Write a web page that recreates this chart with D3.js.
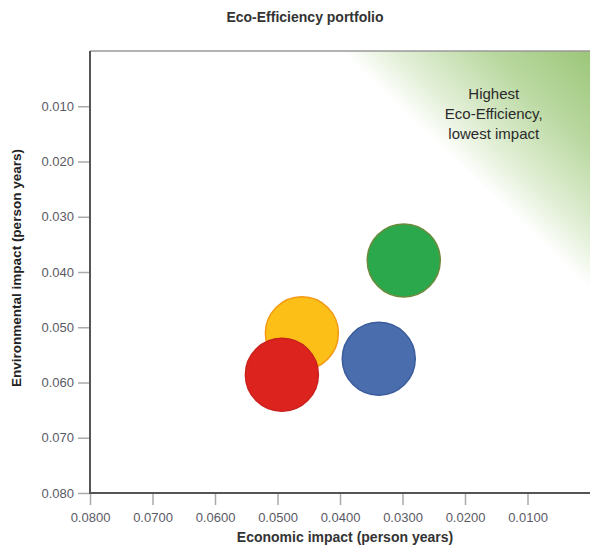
<!DOCTYPE html>
<html>
<head>
<meta charset="utf-8">
<script src="https://cdn.jsdelivr.net/npm/d3@7"></script>
<style>
  body { margin: 0; background: #fff; }
  text { font-family: "Liberation Sans", Arial, sans-serif; }
</style>
</head>
<body>
<script>
'use strict';

// portfolio items (economic impact, environmental impact), in person years
let names = ['green', 'yellow', 'blue', 'red'];
let econ = [0.0298, 0.0461, 0.0338, 0.0493];
let env = [0.0379, 0.0511, 0.0557, 0.0586];
let colors = ['#2ca84c', '#fcbf17', '#4a6dae', '#dd231e'];
let strokes = ['#6b8a3c', '#f29a14', '#3a5c9c', '#c9211c'];

let xTicks = [0.08, 0.07, 0.06, 0.05, 0.04, 0.03, 0.02, 0.01];
let yTicks = [0.01, 0.02, 0.03, 0.04, 0.05, 0.06, 0.07, 0.08];

// the "best" corner: below 0.040 economic and 0.043 environmental
let zone = [[0.040, 0], [0, 0], [0, 0.043]];
let zoneText = ['Highest', 'Eco-Efficiency,', 'lowest impact'];

let svgWidth = 590, svgHeight = 546;
let margin = { top: 51, right: 0, bottom: 53, left: 90 };

let xScale = d3.scaleLinear()
  .domain([0.08, 0]) // reversed, lower impact to the right
  .range([margin.left, svgWidth - margin.right]);

let yScale = d3.scaleLinear()
  .domain([0, 0.08]) // low impact at the top
  .range([margin.top, svgHeight - margin.bottom]);

let chart = d3.select('body').append('svg')
  .attr('width', svgWidth)
  .attr('height', svgHeight);

// gradient for the green corner, white along the diagonal
let p0 = [xScale(zone[0][0]), yScale(zone[0][1])];
let p2 = [xScale(zone[2][0]), yScale(zone[2][1])];
let c = [xScale(zone[1][0]), yScale(zone[1][1])];
let dx = p2[0] - p0[0], dy = p2[1] - p0[1];
let len = Math.hypot(dx, dy);
let t = ((c[0] - p0[0]) * dx + (c[1] - p0[1]) * dy) / (len * len);
let foot = [p0[0] + t * dx, p0[1] + t * dy];

let grad = chart.append('defs').append('linearGradient')
  .attr('id', 'corner')
  .attr('gradientUnits', 'userSpaceOnUse')
  .attr('x1', foot[0]).attr('y1', foot[1])
  .attr('x2', c[0]).attr('y2', c[1]);
grad.append('stop').attr('offset', '0%').attr('stop-color', '#ffffff');
grad.append('stop').attr('offset', '22%').attr('stop-color', '#e2efd6');
grad.append('stop').attr('offset', '60%').attr('stop-color', '#b9d8a0');
grad.append('stop').attr('offset', '100%').attr('stop-color', '#9cc679');

chart.append('path')
  .datum(zone)
  .attr('d', d3.line().x(d => xScale(d[0])).y(d => yScale(d[1])).curve(d3.curveLinearClosed))
  .attr('fill', 'url(#corner)');

chart.append('text')
  .attr('x', xScale(0.0154))
  .attr('y', 99)
  .attr('text-anchor', 'middle')
  .attr('font-size', 15)
  .attr('fill', '#2a2a2a')
  .selectAll('tspan').data(zoneText).enter().append('tspan')
  .attr('x', xScale(0.0154))
  .attr('dy', (d, i) => i === 0 ? 0 : 20)
  .text(d => d);

// axes
let xAxis = chart.append('g')
  .attr('transform', `translate(0,${svgHeight - margin.bottom})`)
  .call(d3.axisBottom(xScale).tickValues(xTicks).tickFormat(d3.format('.4f')).tickSize(12).tickPadding(8));

let yAxis = chart.append('g')
  .attr('transform', `translate(${margin.left},0)`)
  .call(d3.axisLeft(yScale).tickValues(yTicks).tickFormat(d3.format('.3f')).tickSize(12).tickPadding(4));

[xAxis, yAxis].forEach(g => {
  g.select('.domain').remove();
  g.selectAll('.tick line').attr('stroke', '#aaa').attr('stroke-width', 1.5);
  g.selectAll('.tick text')
    .attr('fill', '#5a5a66')
    .attr('font-size', 13)
    .attr('font-family', '"Liberation Sans", Arial, sans-serif');
});

// frame: top, left, bottom
chart.append('line')
  .attr('x1', margin.left).attr('x2', svgWidth)
  .attr('y1', yScale(0)).attr('y2', yScale(0))
  .attr('stroke', '#999').attr('stroke-width', 1.5);
chart.append('path')
  .attr('d', `M${margin.left},${yScale(0)}V${yScale(0.08)}H${svgWidth}`)
  .attr('fill', 'none')
  .attr('stroke', '#555')
  .attr('stroke-width', 2);

// bubbles
let items = names.map((n, i) => ({ name: n, x: econ[i], y: env[i], fill: colors[i], stroke: strokes[i] }));
chart.selectAll('circle').data(items).enter().append('circle')
  .attr('cx', d => xScale(d.x))
  .attr('cy', d => yScale(d.y))
  .attr('r', 36.5)
  .attr('fill', d => d.fill)
  .attr('stroke', d => d.stroke)
  .attr('stroke-width', 1.5);

// titles
chart.append('text')
  .attr('x', 305).attr('y', 22)
  .attr('text-anchor', 'middle')
  .attr('font-size', 14).attr('font-weight', 'bold')
  .attr('fill', '#333')
  .text('Eco-Efficiency portfolio');

chart.append('text')
  .attr('x', 345).attr('y', 542)
  .attr('text-anchor', 'middle')
  .attr('font-size', 14).attr('font-weight', 'bold')
  .attr('fill', '#333')
  .text('Economic impact (person years)');

chart.append('text')
  .attr('transform', `translate(21,268) rotate(-90)`)
  .attr('text-anchor', 'middle')
  .attr('font-size', 13.5).attr('font-weight', 'bold')
  .attr('fill', '#222')
  .text('Environmental impact (person years)');
</script>
</body>
</html>
